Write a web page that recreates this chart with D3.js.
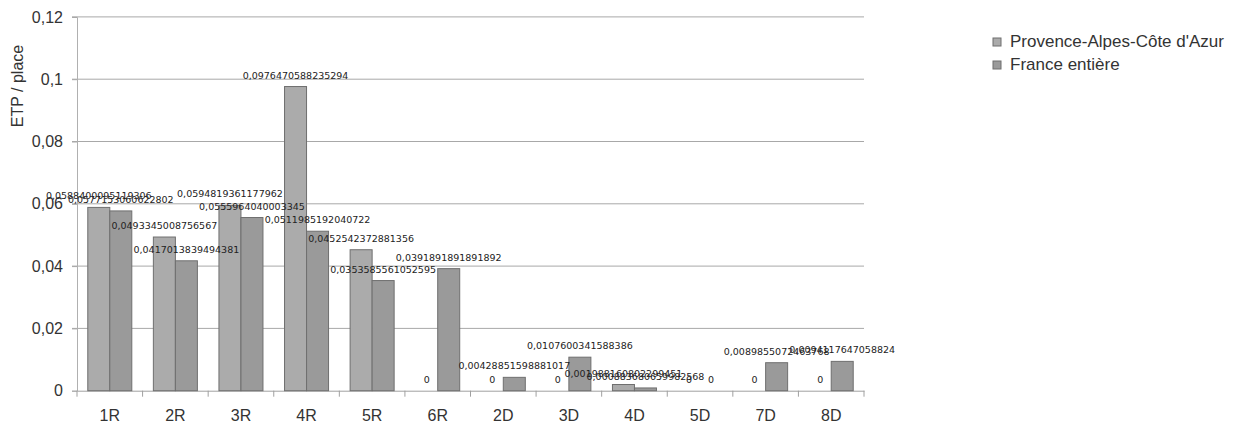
<!DOCTYPE html>
<html>
<head>
<meta charset="utf-8">
<script src="https://cdn.jsdelivr.net/npm/d3@7"></script>
<style>
  html, body { margin: 0; padding: 0; background: #fff; }
  svg { display: block; }
</style>
</head>
<body>
<svg id="chart" width="1241" height="423"></svg>
<script>
const categories = ["1R", "2R", "3R", "4R", "5R", "6R", "2D", "3D", "4D", "5D", "7D", "8D"];
const seriesNames = ["Provence-Alpes-Côte d'Azur", "France entière"];
const pacaValues = [0.0588400095119306, 0.0493345008756567, 0.0594819361177962, 0.0976470588235294,
                    0.0452542372881356, 0, 0, 0, 0.001988160802299451, 0, 0, 0];
const franceValues = [0.0577153060622802, 0.0417013839494381, 0.0555964040003345, 0.0511985192040722,
                      0.0353585561052595, 0.0391891891891892, 0.00428851598881017, 0.0107600341588386,
                      0.000883680659982568, 0, 0.0089855072463768, 0.0094117647058824];
const yTicks = [0, 0.02, 0.04, 0.06, 0.08, 0.1, 0.12];
const yTitle = "ETP / place";

(function () {
const colors = ["#ababab", "#9a9a9a"];
const strokeCol = "#6f6f6f";

const svg = d3.select("#chart");
const pLeft = 77, pRight = 864, pTop = 16.9, pBottom = 390.7;

const x = d3.scaleBand().domain(categories).range([pLeft, pRight]).padding(0);
const xs = d3.scaleBand().domain(seriesNames).range([0, x.bandwidth()])
  .paddingInner(0).paddingOuter(0.49);
const y = d3.scaleLinear().domain([0, 0.12]).range([pBottom, pTop]);

const fmt = v => String(+v.toFixed(2)).replace(".", ",");
const lab = v => String(v).replace(".", ",");

// gridlines
svg.append("g").selectAll("line").data(yTicks.filter(t => t > 0)).join("line")
  .attr("x1", pLeft - 5).attr("x2", pRight)
  .attr("y1", d => y(d)).attr("y2", d => y(d))
  .attr("stroke", "#a8a8a8").attr("stroke-width", 1);

// y axis
const yAxis = svg.append("g").attr("transform", `translate(${pLeft},0)`)
  .call(d3.axisLeft(y).tickValues(yTicks).tickFormat(fmt).tickSize(5).tickPadding(9));
yAxis.select(".domain").attr("stroke", "#b0b0b0");
yAxis.selectAll(".tick line").attr("stroke", "#a8a8a8");
yAxis.selectAll("text").attr("font-family", "Liberation Sans, Arial, sans-serif")
  .attr("font-size", 16).attr("fill", "#333");

// x axis
const xAxis = svg.append("g").attr("transform", `translate(0,${pBottom})`)
  .call(d3.axisBottom(x).tickSize(0).tickPadding(19));
xAxis.select(".domain").attr("stroke", "#a0a0a0");
xAxis.selectAll("text").attr("font-family", "Liberation Sans, Arial, sans-serif")
  .attr("font-size", 16).attr("fill", "#333");
const boundaries = categories.map(c => x(c)).concat([x(categories[categories.length - 1]) + x.bandwidth()]);
svg.append("g").selectAll("line").data(boundaries).join("line")
  .attr("x1", d => d).attr("x2", d => d)
  .attr("y1", pBottom).attr("y2", pBottom + 6)
  .attr("stroke", "#a0a0a0");

// bars
const items = [];
categories.forEach((c, i) => {
  items.push({ cat: c, s: seriesNames[0], j: 0, v: pacaValues[i] });
  items.push({ cat: c, s: seriesNames[1], j: 1, v: franceValues[i] });
});
svg.append("g").selectAll("rect").data(items).join("rect")
  .attr("x", d => x(d.cat) + xs(d.s)).attr("width", xs.bandwidth())
  .attr("y", d => y(d.v)).attr("height", d => Math.max(0, pBottom - y(d.v)))
  .attr("fill", d => colors[d.j]).attr("stroke", strokeCol).attr("stroke-width", 1);

// data labels (drawn above all bars)
svg.append("g").selectAll("text").data(items).join("text")
  .attr("x", d => x(d.cat) + xs(d.s) + xs.bandwidth() / 2)
  .attr("y", d => y(d.v) - 8)
  .attr("text-anchor", "middle")
  .attr("font-family", "DejaVu Sans, sans-serif")
  .attr("font-size", 9.5).attr("fill", "#222")
  .text(d => lab(d.v));

// y title
svg.append("text")
  .attr("transform", "translate(23,86) rotate(-90)")
  .attr("text-anchor", "middle")
  .attr("font-family", "Liberation Sans, Arial, sans-serif")
  .attr("font-size", 16).attr("fill", "#333")
  .text(yTitle);

// legend
const leg = svg.append("g").selectAll("g").data(seriesNames).join("g")
  .attr("transform", (d, i) => `translate(993,${38 + i * 23})`);
leg.append("rect").attr("width", 8).attr("height", 8)
  .attr("fill", (d, i) => colors[i]).attr("stroke", strokeCol);
leg.append("text").attr("x", 17).attr("y", 9)
  .attr("font-family", "Liberation Sans, Arial, sans-serif")
  .attr("font-size", 17).attr("fill", "#333")
  .text(d => d);
})();
</script>
</body>
</html>
